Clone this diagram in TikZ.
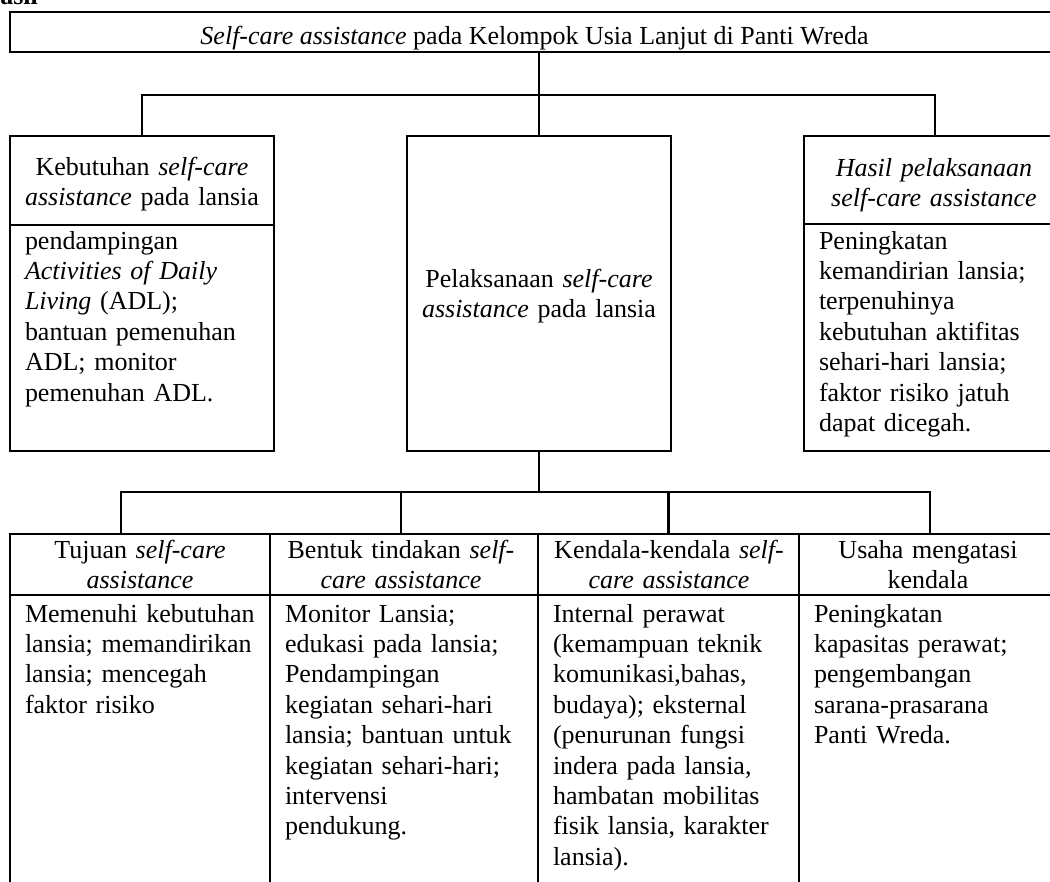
\documentclass[tikz,border=0pt]{standalone}
\usepackage{fontspec}
\setmainfont{Liberation Serif}
\usetikzlibrary{calc}
\newcommand\fsz{\fontsize{19.5pt}{22.8pt}\selectfont}
\tikzset{
  ln/.style={line width=1.6pt},
  bx/.style={draw, rectangle, line width=1.6pt, inner sep=0pt, outer sep=0pt, anchor=north west},
  hd/.style={inner sep=0pt, outer sep=0pt, anchor=base, align=center, text width=210pt, font=\fsz},
  bd/.style={inner sep=0pt, outer sep=0pt, anchor=base west, align=left, text width=210pt, font=\fsz},
}
\begin{document}
\begin{tikzpicture}[x=0.75pt, y=-0.75pt]
\useasboundingbox (0,0) rectangle (1050,882);
\clip (0,0) rectangle (1050,882);
% cut-off heading
\node[inner sep=0pt, anchor=base west, font=\fsz\bfseries] (hdg) at (0,4.5) {asil};
% boxes
\node[bx, minimum width=1050*0.75pt, minimum height=40*0.75pt] (top) at (10,12) {};
\node[bx, minimum width=264*0.75pt, minimum height=315*0.75pt] (L) at (10,136) {};
\node[bx, minimum width=264*0.75pt, minimum height=315*0.75pt] (M) at (407,136) {};
\node[bx, minimum width=262*0.75pt, minimum height=315*0.75pt] (R) at (804,136) {};
\node[bx, minimum width=260*0.75pt, minimum height=400*0.75pt] (B1) at (10,534) {};
\node[bx, minimum width=268*0.75pt, minimum height=400*0.75pt] (B2) at (270,534) {};
\node[bx, minimum width=261*0.75pt, minimum height=400*0.75pt] (B3) at (538,534) {};
\node[bx, minimum width=262*0.75pt, minimum height=400*0.75pt] (B4) at (799,534) {};
% header dividers
\draw[ln] ($(L.north west)+(0,89)$) -- ($(L.north east)+(0,89)$);
\draw[ln] ($(R.north west)+(0,88)$) -- ($(R.north east)+(0,88)$);
\draw[ln] ($(B1.north west)+(0,61)$) -- ($(B4.north east)+(0,61)$);
% connectors
\coordinate (j1) at (539,95);
\coordinate (j2) at (539,492);
\coordinate (c1) at (121,534);
\coordinate (c2) at (401,534);
\draw[ln] (top.south -| M.north) -- (M.north);
\draw[ln] (L.north) |- (j1) -| (R.north);
\draw[ln] (M.south) -- (j2);
\draw[ln] (c1) |- (j2) -| (B4.north);
\draw[ln] (j2 -| c2) -- (c2);
\draw[ln] (j2 -| B3.north) -- (B3.north);
% texts
\node[inner sep=0pt, anchor=base, font=\fsz] (tt) at (534.5,44) {\emph{Self-care assistance} pada Kelompok Usia Lanjut di Panti Wreda};
\node[hd] (Lh) at (142,175) {Kebutuhan \emph{self-care}\\\emph{assistance} pada lansia};
\node[bd] (Lb) at (25,249) {pendampingan\\\emph{Activities of Daily}\\\emph{Living} (ADL);\\bantuan pemenuhan\\ADL; monitor\\pemenuhan ADL.};
\node[hd] (Mt) at (539,287) {Pelaksanaan \emph{self-care}\\\emph{assistance} pada lansia};
\node[hd] (Rh) at (934,176) {\emph{Hasil pelaksanaan}\\\emph{self-care assistance}};
\node[bd] (Rb) at (819,249) {Peningkatan\\kemandirian lansia;\\terpenuhinya\\kebutuhan aktifitas\\sehari-hari lansia;\\faktor risiko jatuh\\dapat dicegah.};
\node[hd] (B1h) at (140,558) {Tujuan \emph{self-care}\\\emph{assistance}};
\node[bd] (B1b) at (25,622) {Memenuhi kebutuhan\\lansia; memandirikan\\lansia; mencegah\\faktor risiko};
\node[hd] (B2h) at (401,558) {Bentuk tindakan \emph{self-}\\\emph{care assistance}};
\node[bd] (B2b) at (285,622) {Monitor Lansia;\\edukasi pada lansia;\\Pendampingan\\kegiatan sehari-hari\\lansia; bantuan untuk\\kegiatan sehari-hari;\\intervensi\\pendukung.};
\node[hd] (B3h) at (669,558) {Kendala-kendala \emph{self-}\\\emph{care assistance}};
\node[bd] (B3b) at (553,622) {Internal perawat\\(kemampuan teknik\\komunikasi,bahas,\\budaya); eksternal\\(penurunan fungsi\\indera pada lansia,\\hambatan mobilitas\\fisik lansia, karakter\\lansia).};
\node[hd] (B4h) at (928,558) {Usaha mengatasi\\kendala};
\node[bd] (B4b) at (814,622) {Peningkatan\\kapasitas perawat;\\pengembangan\\sarana-prasarana\\Panti Wreda.};
\end{tikzpicture}
\end{document}
